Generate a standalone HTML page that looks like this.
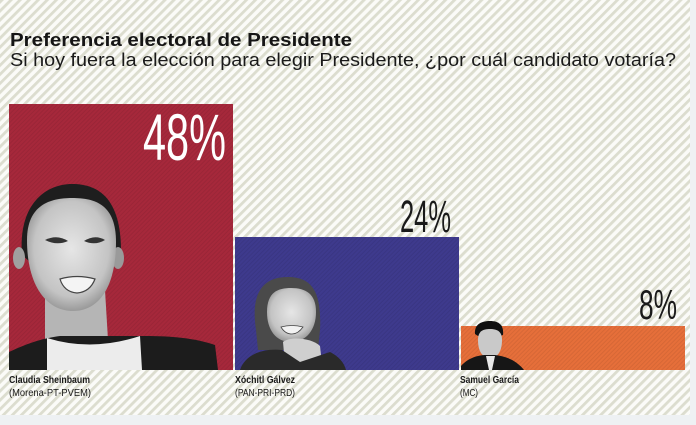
<!DOCTYPE html>
<html><head><meta charset="utf-8">
<style>
html,body{margin:0;padding:0;background:#fff;}
svg{display:block;}
</style></head>
<body>
<svg width="696" height="425" viewBox="0 0 696 425" xmlns="http://www.w3.org/2000/svg">
<defs>
<pattern id="st" width="6.4" height="6.4" patternUnits="userSpaceOnUse" patternTransform="rotate(45)">
<rect width="6.4" height="6.4" fill="#fbfbf8"/>
<rect width="2.8" height="6.4" fill="#dcddcf"/>
</pattern>
<pattern id="bs" width="3" height="3" patternUnits="userSpaceOnUse" patternTransform="rotate(45)">
<rect width="1" height="3" fill="#000" opacity="0.07"/>
</pattern>
<radialGradient id="faceG" cx="0.5" cy="0.45" r="0.6">
<stop offset="0" stop-color="#e6e6e6"/><stop offset="0.7" stop-color="#c4c4c4"/><stop offset="1" stop-color="#8a8a8a"/>
</radialGradient>
</defs>
<rect width="696" height="425" fill="url(#st)"/>
<rect x="690" y="0" width="6" height="425" fill="#eff1f3"/>
<rect x="0" y="415" width="696" height="10" fill="#eef1f3"/>

<text x="10" y="46" font-family="Liberation Sans, sans-serif" font-weight="bold" font-size="18" fill="#151515" textLength="342" lengthAdjust="spacingAndGlyphs">Preferencia electoral de Presidente</text>
<text x="10" y="66" font-family="Liberation Sans, sans-serif" font-size="18" fill="#1a1a1a" textLength="666" lengthAdjust="spacingAndGlyphs">Si hoy fuera la elección para elegir Presidente, ¿por cuál candidato votaría?</text>

<!-- bars -->
<rect x="9" y="104" width="224" height="266" fill="#a6283b"/>
<rect x="235" y="237" width="224" height="133" fill="#3e3a8d"/>
<rect x="461" y="326" width="224" height="44" fill="#e66f3a"/>
<rect x="9" y="104" width="224" height="266" fill="url(#bs)"/>
<rect x="235" y="237" width="224" height="133" fill="url(#bs)"/>
<rect x="461" y="326" width="224" height="44" fill="url(#bs)"/>

<!-- Claudia -->
<g>
<path d="M22 255 C18 205 45 184 72 184 C100 184 122 200 121 255 L112 262 L30 262 Z" fill="#1e1e1e"/>
<ellipse cx="19" cy="258" rx="6" ry="11" fill="#a0a0a0"/>
<ellipse cx="118" cy="258" rx="6" ry="11" fill="#9a9a9a"/>
<path d="M45 290 L105 290 L108 340 L45 340 Z" fill="#b5b5b5"/>
<path d="M27 240 C27 205 50 198 72 198 C96 198 116 205 116 242 C116 285 100 311 73 311 C46 311 27 285 27 240 Z" fill="url(#faceG)"/>
<path d="M45 240 Q57 234 68 241 Q57 246 45 240 Z" fill="#333"/>
<path d="M84 241 Q95 234 105 240 Q95 246 84 241 Z" fill="#333"/>
<path d="M60 279 Q77 274 95 279 Q90 292 77 293 Q64 292 60 279 Z" fill="#f4f4f4" stroke="#444" stroke-width="1.2"/>
<path d="M9 352 C30 342 45 338 60 336 L145 336 C170 336 195 338 215 345 L218 370 L9 370 Z" fill="#1c1c1c"/>
<path d="M47 338 Q92 352 140 336 L142 370 L47 370 Z" fill="#ececec"/>
</g>

<!-- Xochitl -->
<g>
<path d="M256 330 C250 290 265 277 288 277 C312 277 322 292 320 330 L318 350 L258 350 Z" fill="#4a4a4a"/>
<path d="M267 312 C267 292 278 288 291 288 C306 288 316 294 316 312 C316 330 306 342 291 342 C276 342 267 330 267 312 Z" fill="url(#faceG)"/>
<path d="M281 327 Q292 324 303 327 Q298 334 292 334 Q285 334 281 327 Z" fill="#f2f2f2" stroke="#444" stroke-width="0.8"/>
<path d="M283 342 C290 336 312 338 320 346 L322 364 L285 364 Z" fill="#cfcfcf"/>
<path d="M240 370 C245 355 262 348 282 350 L300 362 L330 352 C338 356 344 362 346 370 Z" fill="#2a2a2a"/>
</g>

<!-- Samuel -->
<g>
<path d="M475 334 C474 324 482 321 490 321 C499 321 504 325 503 335 L500 336 L478 336 Z" fill="#111"/>
<path d="M478 340 C478 331 483 329 490 329 C498 329 502 332 502 340 C502 352 497 358 490 358 C483 358 478 352 478 340 Z" fill="#c9c9c9"/>
<path d="M461 366 C468 358 478 355 486 355 L495 355 C505 356 516 360 524 370 L461 370 Z" fill="#161616"/>
<path d="M486 356 L495 356 L492 370 L489 370 Z" fill="#e8e8e8"/>
</g>

<!-- percentages -->
<text x="226" y="160" text-anchor="end" font-family="Liberation Sans Narrow, Liberation Sans, sans-serif" font-size="66" fill="#ffffff" textLength="83" lengthAdjust="spacingAndGlyphs">48%</text>
<text x="451" y="232" text-anchor="end" font-family="Liberation Sans Narrow, Liberation Sans, sans-serif" font-size="45" fill="#1a1a1a" textLength="51" lengthAdjust="spacingAndGlyphs">24%</text>
<text x="677" y="319" text-anchor="end" font-family="Liberation Sans Narrow, Liberation Sans, sans-serif" font-size="42" fill="#1a1a1a" textLength="38" lengthAdjust="spacingAndGlyphs">8%</text>

<!-- labels -->
<g font-family="Liberation Sans, sans-serif" font-size="10" fill="#1a1a1a">
<text x="9" y="383" font-weight="bold" textLength="81" lengthAdjust="spacingAndGlyphs">Claudia Sheinbaum</text>
<text x="9" y="396" textLength="82" lengthAdjust="spacingAndGlyphs">(Morena-PT-PVEM)</text>
<text x="235" y="383" font-weight="bold" textLength="60" lengthAdjust="spacingAndGlyphs">Xóchitl Gálvez</text>
<text x="235" y="396" textLength="60" lengthAdjust="spacingAndGlyphs">(PAN-PRI-PRD)</text>
<text x="460" y="383" font-weight="bold" textLength="59" lengthAdjust="spacingAndGlyphs">Samuel García</text>
<text x="460" y="396" textLength="18" lengthAdjust="spacingAndGlyphs">(MC)</text>
</g>
</svg>
</body></html>
